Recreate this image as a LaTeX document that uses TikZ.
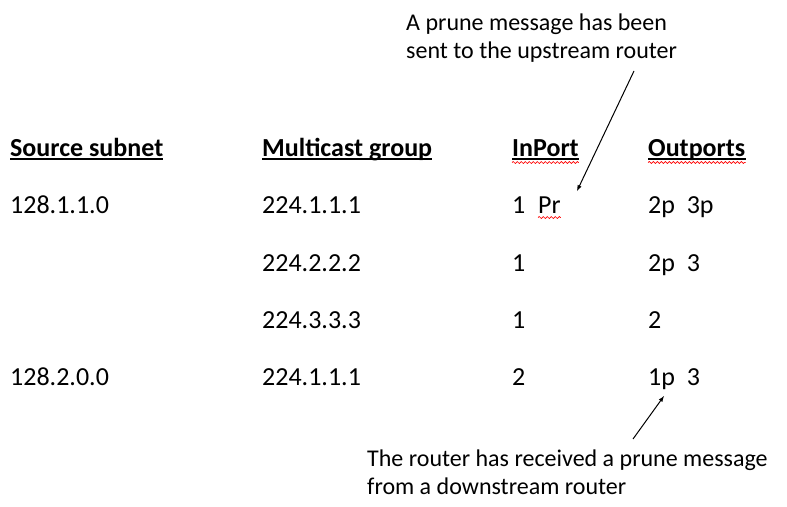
\documentclass[tikz,border=0pt]{standalone}
\usepackage{fontspec}
\setmainfont{Carlito}
\usetikzlibrary{decorations.pathmorphing}

\begin{document}
\begin{tikzpicture}[x=1pt,y=-1pt]
        \useasboundingbox (0,0) rectangle (787,506);

        \begin{scope}[every node/.style={anchor=base west, inner sep=0pt, font=\fontsize{26}{31}\selectfont}]
          \begin{scope}[every node/.append style={font=\fontsize{26}{31}\selectfont\bfseries}]
            \node (h1) at (10,156)  {Source subnet};
            \node (h2) at (262,156) {Multicast group};
            \node (h3) at (512,156) {InPort};
            \node (h4) at (648,156) {Outports};
          \end{scope}

          \node (s1)  at (10,213)  {128.1.1.0};
          \node (g1)  at (262,213) {224.1.1.1};
          \node (i1)  at (512,213) {1};
          \node (pr)  at (538,213) {Pr};
          \node (o1)  at (648,213) {2p\ \ 3p};

          \node (g2)  at (262,271) {224.2.2.2};
          \node (i2)  at (512,271) {1};
          \node (o2)  at (648,271) {2p\ \ 3};

          \node (g3)  at (262,328) {224.3.3.3};
          \node (i3)  at (512,328) {1};
          \node (o3)  at (648,328) {2};

          \node (s4)  at (10,385)  {128.2.0.0};
          \node (g4)  at (262,385) {224.1.1.1};
          \node (i4)  at (512,385) {2};
          \node (o4)  at (648,385) {1p\ \ 3};
        \end{scope}

        \begin{scope}[every node/.style={anchor=base west, inner sep=0pt, align=left, font=\fontsize{24}{28}\selectfont}]
          \node (up)   at (406,58)  {A prune message has been\\sent to the upstream router};
          \node (down) at (367,494) {The router has received a prune message\\from a downstream router};
        \end{scope}

        % underlines and spelling marks
        \foreach \h in {h1,h2,h3,h4}
          \draw[line width=1.6pt] ([yshift=-3pt]\h.base west) -- ([yshift=-3pt]\h.base east);
        \begin{scope}[red, line width=0.7pt, decoration={snake, segment length=4pt, amplitude=1pt}]
          \draw[decorate] ([yshift=-6.5pt]h3.base west) -- ([yshift=-6.5pt]h3.base east);
          \draw[decorate] ([yshift=-6.5pt]h4.base west) -- ([yshift=-6.5pt]h4.base east);
          \draw[decorate] ([yshift=-4.5pt]pr.base west) -- ([yshift=-4.5pt]pr.base east);
        \end{scope}

        \coordinate (a1) at (634,71);
        \coordinate (a2) at (577,191);
        \coordinate (b1) at (633,439);
        \coordinate (b2) at (664,396);

        \begin{scope}[every edge/.style={draw, line width=1pt, -latex}]
          \path (a1) edge (a2);
          \path (b1) edge (b2);
        \end{scope}

      \end{tikzpicture}
\end{document}
